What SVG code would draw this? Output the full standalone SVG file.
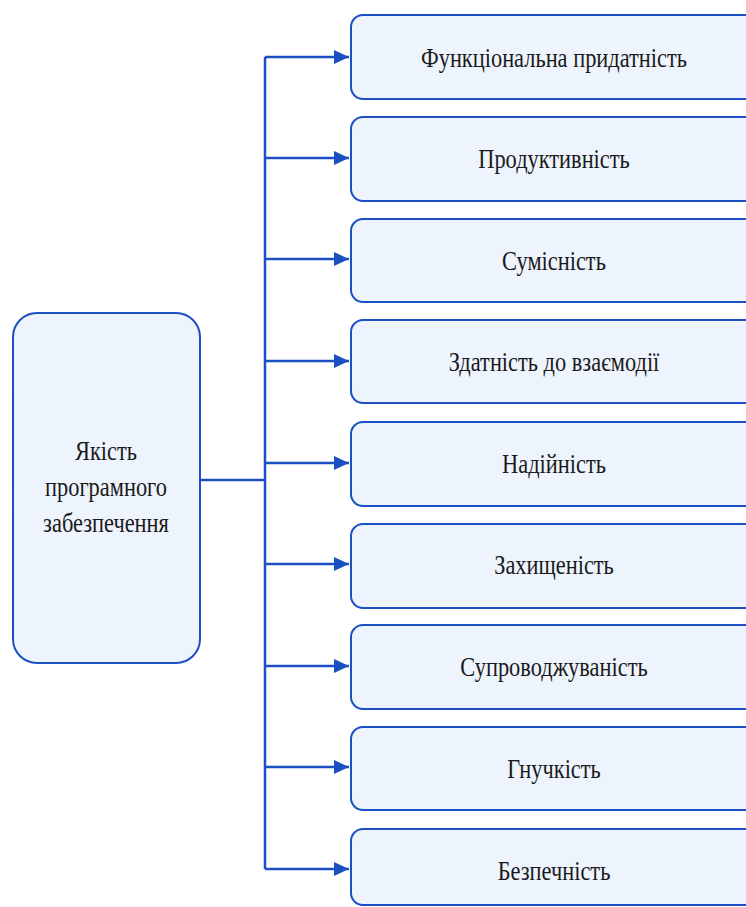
<svg xmlns="http://www.w3.org/2000/svg" width="746" height="907" viewBox="0 0 746 907">
<defs>
<style>
.box{fill:#eef4fd;stroke:#1c4fc2;stroke-width:2}
.con{fill:none;stroke:#1c4fc2;stroke-width:2.5}
.t{font-family:"Liberation Serif",serif;font-size:28px;fill:#1a1a1a;text-anchor:middle}
</style>
<marker id="ah" markerWidth="16" markerHeight="14" refX="15" refY="7" orient="auto" markerUnits="userSpaceOnUse">
<path d="M0,0 L15,7 L0,14 Z" fill="#1c4fc2"/>
</marker>
</defs>
<rect width="746" height="907" fill="#ffffff"/>
<g id="connectors">
<path class="con" d="M200,480 H265"/>
<path class="con" d="M265,57 V869"/>
<path class="con" d="M265,57 H349" marker-end="url(#ah)"/>
<path class="con" d="M265,158 H349" marker-end="url(#ah)"/>
<path class="con" d="M265,259 H349" marker-end="url(#ah)"/>
<path class="con" d="M265,361 H349" marker-end="url(#ah)"/>
<path class="con" d="M265,463 H349" marker-end="url(#ah)"/>
<path class="con" d="M265,564 H349" marker-end="url(#ah)"/>
<path class="con" d="M265,666 H349" marker-end="url(#ah)"/>
<path class="con" d="M265,767 H349" marker-end="url(#ah)"/>
<path class="con" d="M265,869 H349" marker-end="url(#ah)"/>
</g>
<g id="root">
<rect class="box" x="13" y="313" width="187" height="350" rx="24"/>
<text class="t" transform="translate(106,460) scale(0.8,1)">Якість</text>
<text class="t" transform="translate(106,496) scale(0.8,1)">програмного</text>
<text class="t" transform="translate(106,532) scale(0.8,1)">забезпечення</text>
</g>
<g id="n1">
<rect class="box" x="351" y="15" width="420" height="84" rx="12"/>
<text class="t" transform="translate(554,67) scale(0.8,1)">Функціональна придатність</text>
</g>
<g id="n2">
<rect class="box" x="351" y="117" width="420" height="84" rx="12"/>
<text class="t" transform="translate(554,168) scale(0.8,1)">Продуктивність</text>
</g>
<g id="n3">
<rect class="box" x="351" y="219" width="420" height="83" rx="12"/>
<text class="t" transform="translate(554,270) scale(0.8,1)">Сумісність</text>
</g>
<g id="n4">
<rect class="box" x="351" y="320" width="420" height="83" rx="12"/>
<text class="t" transform="translate(554,371) scale(0.8,1)">Здатність до взаємодії</text>
</g>
<g id="n5">
<rect class="box" x="351" y="422" width="420" height="84" rx="12"/>
<text class="t" transform="translate(554,473) scale(0.8,1)">Надійність</text>
</g>
<g id="n6">
<rect class="box" x="351" y="524" width="420" height="84" rx="12"/>
<text class="t" transform="translate(554,574) scale(0.8,1)">Захищеність</text>
</g>
<g id="n7">
<rect class="box" x="351" y="625" width="420" height="84" rx="12"/>
<text class="t" transform="translate(554,676) scale(0.8,1)">Супроводжуваність</text>
</g>
<g id="n8">
<rect class="box" x="351" y="727" width="420" height="83" rx="12"/>
<text class="t" transform="translate(554,778) scale(0.8,1)">Гнучкість</text>
</g>
<g id="n9">
<rect class="box" x="351" y="829" width="420" height="76" rx="12"/>
<text class="t" transform="translate(554,880) scale(0.8,1)">Безпечність</text>
</g>
</svg>
